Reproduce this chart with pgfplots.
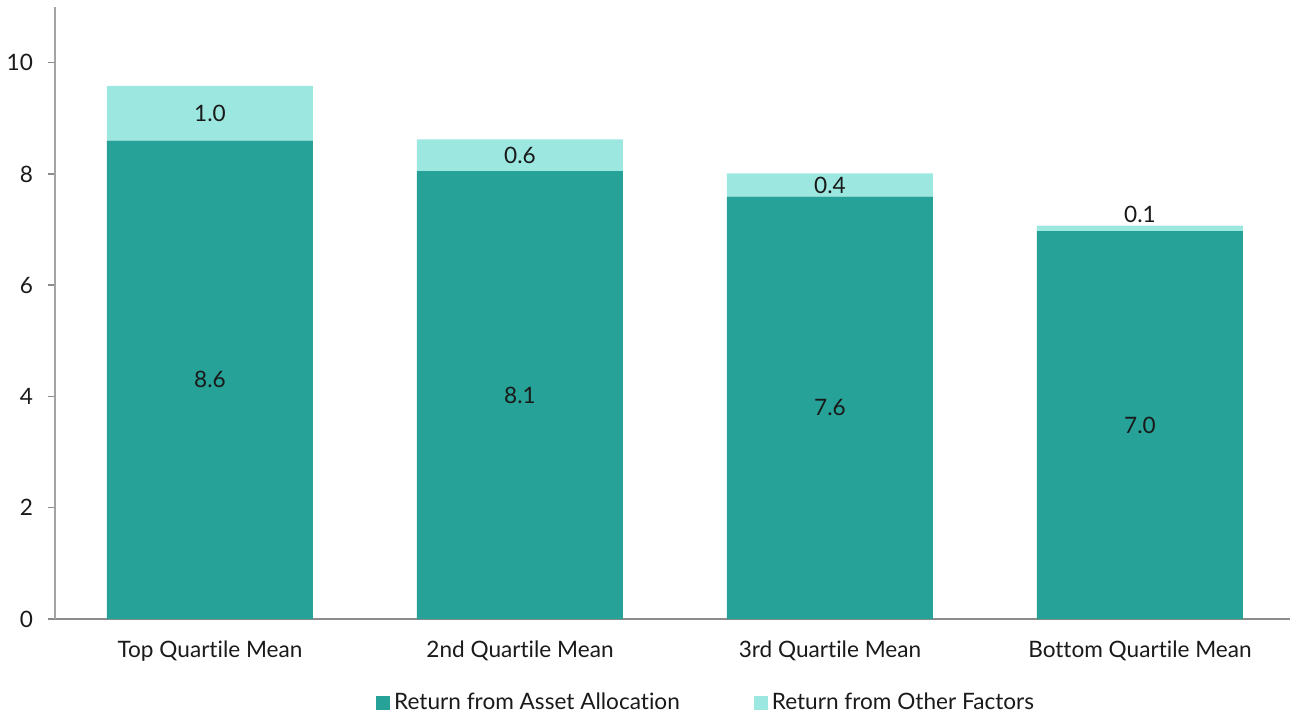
\documentclass[border=0pt]{standalone}
\usepackage{pgfplots}
\usepackage{pgfplotstable}
\pgfplotsset{compat=1.18}
\usepackage{fontspec}
\setmainfont{Lato}[Ligatures=NoCommon]

\definecolor{tealdark}{HTML}{26A298}
\definecolor{teallight}{HTML}{9CE8E0}
\definecolor{axisgray}{HTML}{8C8C8C}
\definecolor{txt}{HTML}{1A1A1A}

% x, asset allocation, other factors
\pgfplotstableread{
x  alloc  other
0  8.60   0.98
1  8.05   0.57
2  7.59   0.42
3  6.97   0.10
}\quartiles

% label positions (value axis) and printed labels
\pgfplotstableread{
x  y      lab
0  4.300  8.6
1  4.025  8.1
2  3.795  7.6
3  3.485  7.0
0  9.090  1.0
1  8.335  0.6
2  7.800  0.4
3  7.280  0.1
}\labels

\pgfplotsset{
  frame/.style={
    scale only axis,
    width=617.5pt, height=306pt,
    xmin=-0.5, xmax=3.484,
    ymin=0, ymax=11,
  },
}

\begin{document}
\begin{tikzpicture}
\begin{axis}[
    frame,
    ybar stacked,
    bar width=103pt,
    axis x line*=bottom,
    axis y line*=left,
    x axis line style={draw=axisgray, line width=1pt},
    y axis line style={draw=axisgray!80, line width=0.75pt},
    xtick=data,
    xticklabels={Top Quartile Mean, 2nd Quartile Mean, 3rd Quartile Mean, Bottom Quartile Mean},
    x tick style={draw=none},
    ytick={0,2,...,10},
    y tick style={draw=axisgray, line width=0.75pt},
    tick align=outside,
    major tick length=3.5pt,
    tick label style={font=\fontsize{11.3}{14}\selectfont, text=txt},
    /pgf/number format/assume math mode=true,
    xticklabel style={yshift=-4pt},
    yticklabel style={xshift=-4pt},
    legend columns=2,
    legend style={draw=none, at={(0.528,-0.137)}, anchor=center,
        font=\fontsize{11.3}{14}\selectfont, text=txt,
        /tikz/every even column/.append style={column sep=35pt}},
    legend image code/.code={\fill[#1] (0pt,-3.5pt) rectangle (7pt,3.5pt);},
]
\addplot[fill=tealdark, draw=none] table[x=x, y=alloc] {\quartiles};
\addplot[fill=teallight, draw=none] table[x=x, y=other] {\quartiles};
\legend{Return from Asset Allocation, Return from Other Factors}
\end{axis}
\begin{axis}[
    frame,
    hide axis,
    clip=false,
]
\addplot[only marks, mark=none, draw=none,
    point meta=explicit symbolic,
    nodes near coords,
    every node near coord/.style={anchor=center, inner sep=0pt,
        font=\fontsize{11.3}{14}\selectfont, text=txt}]
    table[x=x, y=y, meta=lab] {\labels};
\end{axis}
\pgfresetboundingbox
\path[use as bounding box] ([shift={(-27.5pt,-49pt)}]current axis.south west)
    rectangle ([shift={(0pt,3.5pt)}]current axis.north east);
\end{tikzpicture}
\end{document}
